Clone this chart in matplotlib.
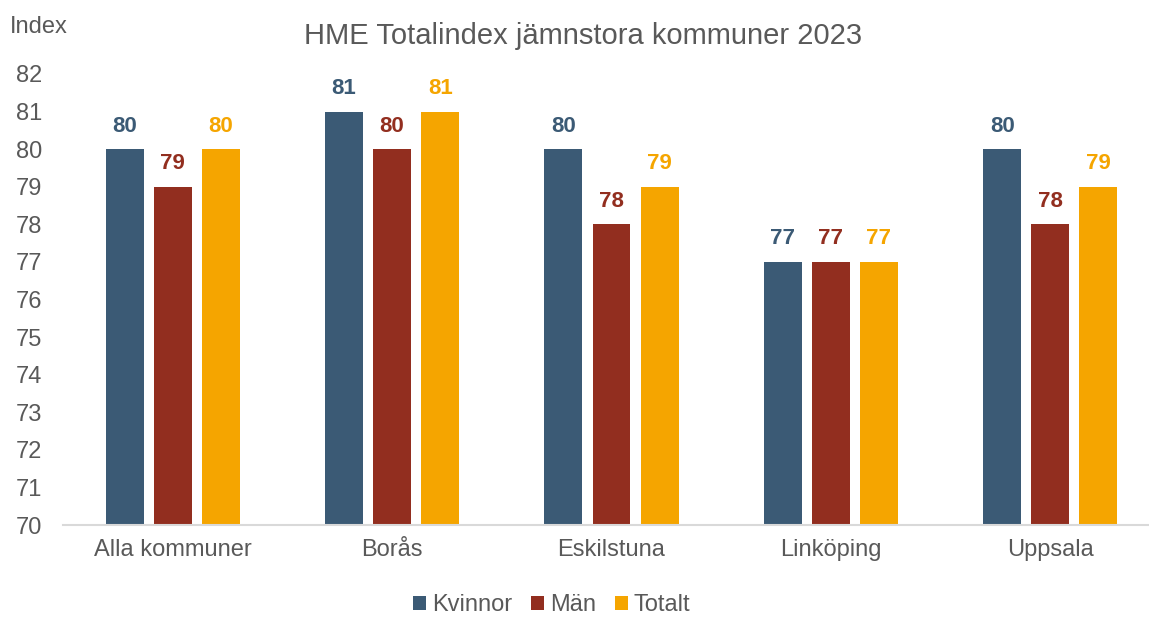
import matplotlib.pyplot as plt
import numpy as np

plt.rcParams['font.family'] = ['Liberation Sans', 'DejaVu Sans']

# data
kommuner = ['Alla kommuner', 'Borås', 'Eskilstuna', 'Linköping', 'Uppsala']
kvinnor = [80, 81, 80, 77, 80]
man = [79, 80, 78, 77, 78]
totalt = [80, 81, 79, 77, 79]
series_names = ['Kvinnor', 'Män', 'Totalt']
colors = ['#3B5A75', '#922E1F', '#F5A500']

text_grey = '#595959'

fig = plt.figure(figsize=(11.49, 6.17), dpi=100)
ax = fig.add_axes([63 / 1149, 92 / 617, 1097 / 1149, 451 / 617])

x = np.arange(len(kommuner))
width = 0.173
step = 0.219
series = [kvinnor, man, totalt]
handles = []
for i, (vals, col, name) in enumerate(zip(series, colors, series_names)):
    bars = ax.bar(x + (i - 1) * step, np.array(vals) - 70, width=width,
                  bottom=70, color=col, label=name)
    handles.append(bars)
    for b, v in zip(bars, vals):
        ax.annotate(f'{v}', (b.get_x() + b.get_width() / 2, v),
                    xytext=(0, 9), textcoords='offset points',
                    ha='center', va='bottom', fontsize=16,
                    fontweight='bold', color=col)

ax.set_ylim(70, 82)
ax.set_xlim(-0.5, 4.5)
ax.set_yticks(range(70, 83))
ax.set_xticks(x)
ax.set_xticklabels(kommuner)
ax.tick_params(axis='both', length=0, labelsize=17, labelcolor=text_grey)
ax.tick_params(axis='x', pad=10)
ax.tick_params(axis='y', pad=15)
for s in ['top', 'right', 'left']:
    ax.spines[s].set_visible(False)
ax.spines['bottom'].set_color('#D9D9D9')
ax.spines['bottom'].set_linewidth(1.5)

fig.text(583 / 1149, 1 - 36 / 617, 'HME Totalindex jämnstora kommuner 2023',
         ha='center', va='center', fontsize=21, color=text_grey)
fig.text(10 / 1149, 1 - 27 / 617, 'Index', ha='left', va='center',
         fontsize=17, color=text_grey)

fig.legend(handles=handles, loc='center', bbox_to_anchor=(552 / 1149, 1 - 605 / 617),
           ncol=3, frameon=False, fontsize=17, handlelength=0.55, handleheight=0.55,
           handletextpad=0.25, columnspacing=0.8, labelcolor=text_grey)

fig.savefig('out.png', dpi=100)
